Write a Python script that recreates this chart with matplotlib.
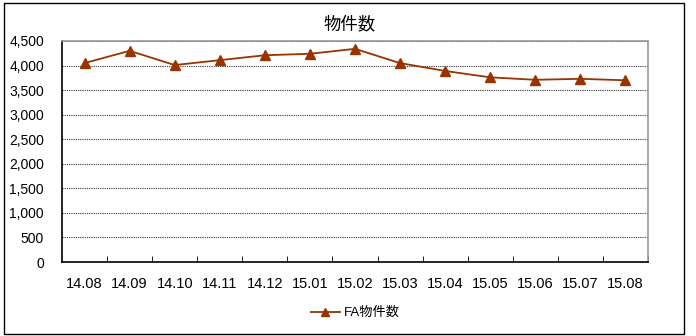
import matplotlib.pyplot as plt
from matplotlib.patches import Rectangle
from matplotlib.lines import Line2D

plt.rcParams['font.family'] = ['Liberation Sans', 'Noto Sans CJK JP', 'DejaVu Sans']

months = ['14.08', '14.09', '14.10', '14.11', '14.12', '15.01', '15.02',
          '15.03', '15.04', '15.05', '15.06', '15.07', '15.08']
counts = [4050, 4300, 4010, 4110, 4210, 4240, 4340,
          4050, 3890, 3760, 3710, 3730, 3700]
series_name = 'FA物件数'
title = '物件数'

color = '#993300'

fig = plt.figure(figsize=(6.96, 3.36), dpi=100)
fig.patches.append(Rectangle((4 / 696, 2 / 336), 680 / 696, 331 / 336,
                             transform=fig.transFigure, fill=False,
                             edgecolor='black', linewidth=1.0))

ax = fig.add_axes([62 / 696, 1 - 262 / 336, 586 / 696, 221 / 336])
x = range(len(months))
ax.plot(x, counts, color=color, linewidth=1.3, marker='^', markersize=7,
        markerfacecolor=color, markeredgecolor=color, label=series_name)

ax.set_xlim(-0.5, len(months) - 0.5)
ax.set_ylim(0, 4500)
ax.set_yticks(range(0, 4501, 500))
ax.set_yticklabels([f'{v:,}' for v in range(0, 4501, 500)], fontsize=10)
ax.yaxis.grid(True, linestyle=(0, (1, 1)), color='#333333', linewidth=0.8)
ax.set_axisbelow(True)
ax.tick_params(axis='y', length=0, pad=13)

ax.set_xticks(list(x))
ax.set_xticklabels(months, fontsize=10.5)
ax.set_xticks([i + 0.5 for i in range(len(months))], minor=True)
ax.tick_params(axis='x', which='major', length=0, pad=11)
ax.tick_params(axis='x', which='minor', direction='in', length=4, color='black')

for side in ('top', 'right'):
    ax.spines[side].set_color('#999999')
    ax.spines[side].set_linewidth(1.2)
for side in ('left', 'bottom'):
    ax.spines[side].set_color('black')
    ax.spines[side].set_linewidth(1.2)

fig.text(350 / 696, 1 - 24 / 336, title, ha='center', va='center', fontsize=12.5)

handle = Line2D([], [], color=color, linewidth=1.3, marker='^', markersize=6,
                markerfacecolor=color, markeredgecolor=color)
fig.legend([handle], [series_name], loc='center', bbox_to_anchor=(355 / 696, 1 - 313 / 336),
           frameon=False, fontsize=9.5, handlelength=2.2, handletextpad=0.3)

fig.savefig('out.png', dpi=100)
